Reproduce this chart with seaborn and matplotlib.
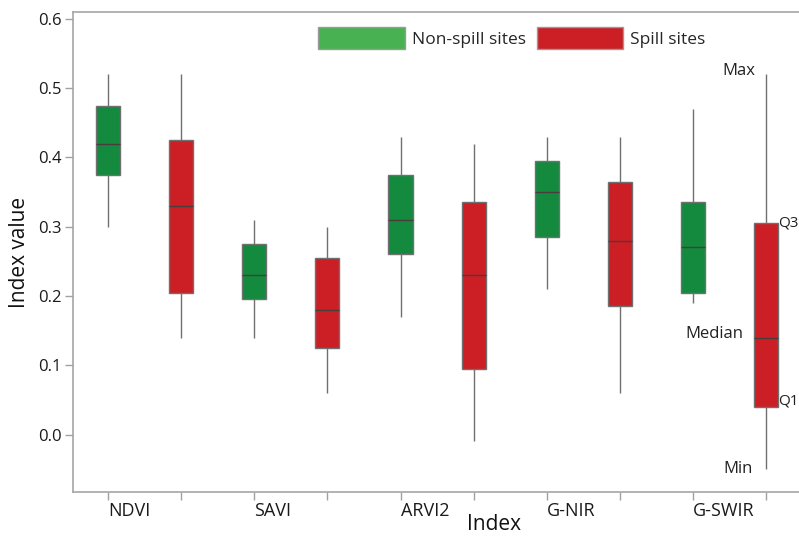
import numpy as np
import pandas as pd
import seaborn as sns
import matplotlib
matplotlib.use("Agg")
import matplotlib.pyplot as plt
from matplotlib.patches import Patch
from matplotlib.transforms import ScaledTranslation

# ---- data (min, Q1, median, Q3, max) ----
indices = ["NDVI", "SAVI", "ARVI2", "G-NIR", "G-SWIR"]
groups = ["Non-spill sites", "Spill sites"]
non_spill = {
    "NDVI":   [0.30, 0.375, 0.42, 0.475, 0.52],
    "SAVI":   [0.14, 0.195, 0.23, 0.275, 0.31],
    "ARVI2":  [0.17, 0.26, 0.31, 0.375, 0.43],
    "G-NIR":  [0.21, 0.285, 0.35, 0.395, 0.43],
    "G-SWIR": [0.19, 0.205, 0.27, 0.335, 0.47],
}
spill = {
    "NDVI":   [0.14, 0.205, 0.33, 0.425, 0.52],
    "SAVI":   [0.06, 0.125, 0.18, 0.255, 0.30],
    "ARVI2":  [-0.01, 0.095, 0.23, 0.335, 0.42],
    "G-NIR":  [0.06, 0.185, 0.28, 0.365, 0.43],
    "G-SWIR": [-0.05, 0.04, 0.14, 0.305, 0.52],
}
yticks = [0.0, 0.1, 0.2, 0.3, 0.4, 0.5, 0.6]

rows = []
order = []
for idx in indices:
    for g, src in zip(groups, [non_spill, spill]):
        key = f"{idx}|{g}"
        order.append(key)
        for v in src[idx]:
            rows.append({"pos": key, "Site": g, "value": v})
df = pd.DataFrame(rows)

sns.set_theme(style="white")
plt.rcParams["font.family"] = ["Open Sans", "DejaVu Sans"]

fig = plt.figure(figsize=(7.99, 5.36), dpi=100)
ax = fig.add_axes([73/799, 1-492/536, 1-73/799, (492-12)/536])

box_colors = {"Non-spill sites": "#138a3e", "Spill sites": "#cc1f25"}
sns.boxplot(data=df, x="pos", y="value", hue="Site", order=order,
            hue_order=groups, palette=box_colors, dodge=False, width=0.33,
            whis=np.inf, showcaps=False, linecolor="#707070", linewidth=1.0,
            saturation=1, legend=False, ax=ax,
            medianprops={"color": "#4a3c3c", "linewidth": 1.0})

ax.set_xlim(-0.479, 9.45)
ax.set_ylim(-0.083, 0.61)
ax.set_yticks(yticks)
ax.set_yticklabels([f"{t:.1f}" for t in yticks], fontsize=12, color="#1a1a1a")
ax.set_xticks(range(10))
labels = []
for idx in indices:
    labels += [idx, ""]
ax.set_xticklabels(labels, fontsize=13, color="#1a1a1a")
for lab in ax.get_xticklabels():
    lab.set_horizontalalignment("left")
    lab.set_transform(lab.get_transform() + ScaledTranslation(4/72, 0, fig.dpi_scale_trans))

ax.tick_params(axis="both", which="both", direction="out", length=6, width=1,
               color="#a0a0a0", bottom=True, left=True)
ax.tick_params(axis="x", pad=1)
ax.tick_params(axis="y", pad=2)
for s in ["left", "bottom", "top"]:
    ax.spines[s].set_color("#a6a6a6")
    ax.spines[s].set_linewidth(1.2)
ax.spines["right"].set_visible(False)

ax.set_ylabel("Index value", fontsize=15, color="#111111", labelpad=6)
ax.set_xlabel("Index", fontsize=15, color="#111111", labelpad=0)
ax.xaxis.set_label_coords(0.58, -0.045)

# annotations on last box
ax.text(9 - 0.14, 0.525, "Max", ha="right", va="center", fontsize=12, color="#222222")
ax.text(9 - 0.18, -0.05, "Min", ha="right", va="center", fontsize=12, color="#222222")
ax.text(9 + 0.17, 0.305, "Q3", ha="left", va="center", fontsize=11, color="#222222")
ax.text(9 + 0.17, 0.049, "Q1", ha="left", va="center", fontsize=11, color="#222222")
ax.text(9 - 0.315, 0.145, "Median", ha="right", va="center", fontsize=12, color="#222222")

handles = [Patch(facecolor="#48b253", edgecolor="#9a9a9a", label="Non-spill sites"),
           Patch(facecolor="#cc1f25", edgecolor="#9a9a9a", label="Spill sites")]
ax.legend(handles=handles, loc="upper left", bbox_to_anchor=(0.338, 0.968),
          ncol=2, frameon=False, fontsize=12.5, handlelength=5.0, handleheight=1.5,
          handletextpad=0.4, columnspacing=0.6, borderpad=0, borderaxespad=0)

fig.savefig("out.png", dpi=100)
